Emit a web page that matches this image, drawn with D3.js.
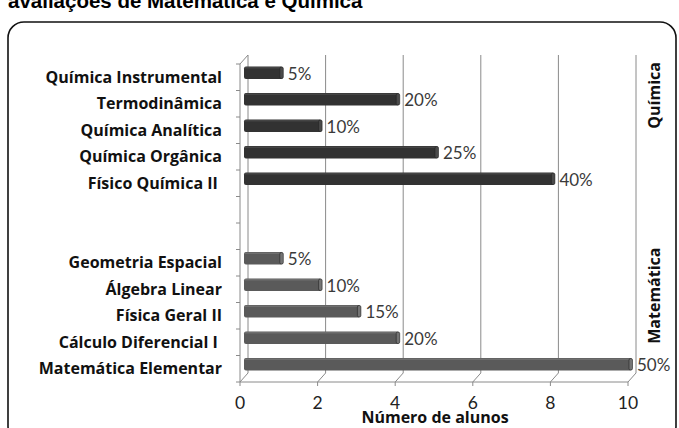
<!DOCTYPE html>
<html>
<head>
<meta charset="utf-8">
<script src="https://cdn.jsdelivr.net/npm/d3@7"></script>
<style>
	body { margin: 0; background: #fff; }
	svg text { white-space: pre; }
</style>
</head>
<body>
<div id="chart"></div>
<script>
// data (counts of students; labels are shares of each group)
const quimicaCats = ["Química Instrumental", "Termodinâmica", "Química Analítica", "Química Orgânica", "Físico Química II "];
const quimicaVals = [1, 4, 2, 5, 8];
const quimicaPct = ["5%", "20%", "10%", "25%", "40%"];

const matCats = ["Geometria Espacial", "Álgebra Linear", "Física Geral II", "Cálculo Diferencial I ", "Matemática Elementar"];
const matVals = [1, 2, 3, 4, 10];
const matPct = ["5%", "10%", "15%", "20%", "50%"];

const gapCats = ["_gap1", "_gap2"];
const groups = ["Química", "Matemática"];
const xTicks = [0, 2, 4, 6, 8, 10];

const title = "avaliações de Matemática e Química";
const xTitle = "Número de alunos";

{
	const W = 679, H = 428;
	const depth = { dx: 8, dy: -9 };   // oblique offset of the back wall
	const boldFont = "'Open Sans', sans-serif";
	const numFont = "Lato, 'Open Sans', sans-serif";

	const svg = d3.select("#chart").append("svg")
		.attr("width", W).attr("height", H);

	// title, cut at the top like in the source image
	svg.append("text")
		.attr("x", 8).attr("y", 8)
		.style("font", "bold 20.5px 'Liberation Sans', Arial, sans-serif")
		.text(title);

	// chart frame
	svg.append("rect")
		.attr("x", 8).attr("y", 22)
		.attr("width", 668).attr("height", 420)
		.attr("rx", 16)
		.attr("fill", "none")
		.attr("stroke", "#111").attr("stroke-width", 1.6);

	const allCats = [...quimicaCats, ...gapCats, ...matCats];
	const rows = [
		...quimicaCats.map((c, i) => ({ cat: c, v: quimicaVals[i], pct: quimicaPct[i], g: 0 })),
		...matCats.map((c, i) => ({ cat: c, v: matVals[i], pct: matPct[i], g: 1 }))
	];

	const x = d3.scaleLinear().domain([0, 10]).range([240, 628]);
	const y = d3.scaleBand().domain(allCats).range([64, 382]).padding(0);

	const gridColor = "#8a8a8a";
	const plot = svg.append("g");

	// back wall grid lines + floor diagonals
	const yTop = y.range()[0], yBot = y.range()[1];
	xTicks.forEach(t => {
		const xf = x(t), xb = x(t) + depth.dx;
		plot.append("line")
			.attr("x1", xb).attr("x2", xb)
			.attr("y1", yTop + depth.dy).attr("y2", yBot + depth.dy)
			.attr("stroke", gridColor).attr("stroke-width", 1);
		plot.append("line")
			.attr("x1", xb).attr("y1", yBot + depth.dy)
			.attr("x2", xf).attr("y2", yBot)
			.attr("stroke", gridColor).attr("stroke-width", 1);
		// tick below the floor
		plot.append("line")
			.attr("x1", xf).attr("x2", xf)
			.attr("y1", yBot).attr("y2", yBot + 4)
			.attr("stroke", gridColor);
	});

	// front floor edge and left wall front edge
	plot.append("line")
		.attr("x1", x(0)).attr("x2", x(10))
		.attr("y1", yBot).attr("y2", yBot)
		.attr("stroke", gridColor);
	plot.append("line")
		.attr("x1", x(0)).attr("x2", x(0))
		.attr("y1", yTop).attr("y2", yBot)
		.attr("stroke", gridColor);
	plot.append("line")
		.attr("x1", x(0)).attr("y1", yTop)
		.attr("x2", x(0) + depth.dx).attr("y2", yTop + depth.dy)
		.attr("stroke", gridColor);

	// category ticks on the left
	const bounds = allCats.map(c => y(c)).concat([yBot]);
	bounds.forEach(b => {
		plot.append("line")
			.attr("x1", x(0) - 4).attr("x2", x(0))
			.attr("y1", b).attr("y2", b)
			.attr("stroke", gridColor);
	});

	// bars, drawn half way into the depth
	const barH = 12.5;
	const fills = ["#323232", "#5a5a5a"];
	const caps = ["#4a4a4a", "#747474"];
	const mx = depth.dx / 2, my = depth.dy / 2;

	const bars = plot.selectAll("g.bar")
		.data(rows)
		.enter().append("g")
			.classed("bar", true)
			.attr("transform", d => `translate(${mx},${y(d.cat) + y.bandwidth() / 2 + my - barH / 2})`);

	bars.append("rect")
		.attr("x", x(0))
		.attr("width", d => x(d.v) - x(0))
		.attr("height", barH)
		.attr("rx", 2)
		.attr("fill", d => fills[d.g]);
	bars.append("rect")
		.attr("x", x(0) + 1)
		.attr("y", 0.5)
		.attr("width", d => x(d.v) - x(0) - 3)
		.attr("height", 1.5)
		.attr("fill", d => caps[d.g])
		.attr("opacity", 0.8);
	bars.append("rect")
		.attr("x", d => x(d.v) - 3)
		.attr("y", 0.5)
		.attr("width", 3.5)
		.attr("height", barH - 1)
		.attr("rx", 1.5)
		.attr("fill", d => caps[d.g])
		.attr("stroke", "#222").attr("stroke-width", 0.6);

	// value labels
	bars.append("text")
		.attr("x", d => x(d.v) + 5)
		.attr("y", barH / 2 + 1)
		.attr("dy", "0.35em")
		.style("font", `17px ${numFont}`)
		.attr("fill", "#3a3a3a")
		.text(d => d.pct);

	// category labels
	svg.append("g").selectAll("text")
		.data(rows)
		.enter().append("text")
			.attr("x", 222)
			.attr("y", d => y(d.cat) + y.bandwidth() / 2)
			.attr("dy", "0.35em")
			.attr("text-anchor", "end")
			.style("font", `bold 16px ${boldFont}`)
			.attr("fill", "#111")
			.text(d => d.cat);

	// group labels on the right
	const groupTops = [y(quimicaCats[0]), y(matCats[0])];
	svg.append("g").selectAll("text")
		.data(groups)
		.enter().append("text")
			.attr("transform", (d, i) => `translate(660,${groupTops[i] - 2}) rotate(-90)`)
			.attr("text-anchor", "end")
			.style("font", `bold 16px ${boldFont}`)
			.attr("fill", "#111")
			.text(d => d);

	// x tick labels
	svg.append("g").selectAll("text")
		.data(xTicks)
		.enter().append("text")
			.attr("x", d => x(d))
			.attr("y", 409)
			.attr("text-anchor", "middle")
			.style("font", `17.5px ${numFont}`)
			.attr("fill", "#222")
			.text(d => d);

	svg.append("text")
		.attr("x", 435).attr("y", 423)
		.attr("text-anchor", "middle")
		.style("font", `bold 16px ${boldFont}`)
		.attr("fill", "#111")
		.text(xTitle);
}
</script>
</body>
</html>
